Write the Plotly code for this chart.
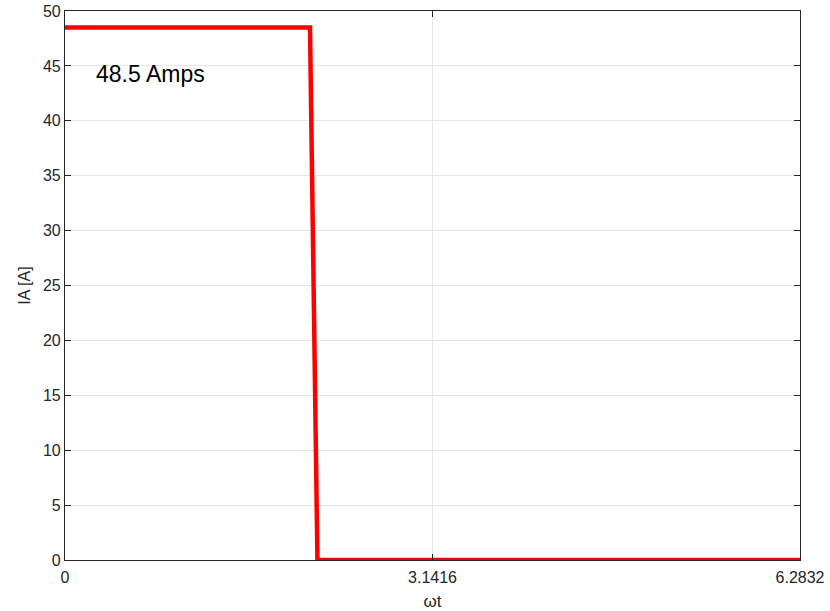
import plotly.graph_objects as go

# Phase A current over one electrical cycle
wt = [0.0, 2.0944, 2.1580, 6.2832]
ia = [48.5, 48.5, 0.0, 0.0]

x_ticks = [0, 3.1416, 6.2832]
x_tick_text = ["0", "3.1416", "6.2832"]
y_ticks = [0, 5, 10, 15, 20, 25, 30, 35, 40, 45, 50]

annotation_text = "48.5 Amps"

FONT = "Liberation Sans, Arial"
TEXT_GRAY = "#262626"

fig = go.Figure()
fig.add_trace(go.Scatter(
    x=wt, y=ia, mode="lines",
    line=dict(color="#ff0000", width=4.5),
    showlegend=False,
))

fig.add_annotation(
    x=0.25, y=44.3, text=annotation_text, showarrow=False,
    xanchor="left", yanchor="middle",
    font=dict(family=FONT, size=23, color="#000000"),
)

axis_common = dict(
    showline=True, linecolor=TEXT_GRAY, linewidth=1.2, mirror="ticks",
    ticks="inside", ticklen=6, tickwidth=1, tickcolor=TEXT_GRAY,
    showgrid=True, gridcolor="#e6e6e6", gridwidth=1,
    zeroline=False, automargin=False,
    tickfont=dict(family=FONT, size=16, color=TEXT_GRAY),
)

fig.update_xaxes(
    range=[0, 6.2832], tickvals=x_ticks, ticktext=x_tick_text,
    ticklabelstandoff=3,
    title=dict(text="ωt", standoff=14,
               font=dict(family=FONT, size=17, color=TEXT_GRAY)),
    **axis_common,
)
fig.update_yaxes(
    range=[0, 50], tickvals=y_ticks,
    title=dict(text="IA [A]", standoff=8,
               font=dict(family=FONT, size=16, color=TEXT_GRAY)),
    **axis_common,
)

fig.update_layout(
    width=830, height=611,
    margin=dict(l=65, r=30, t=11, b=51),
    paper_bgcolor="white", plot_bgcolor="white",
)

fig.write_html("out.html")
